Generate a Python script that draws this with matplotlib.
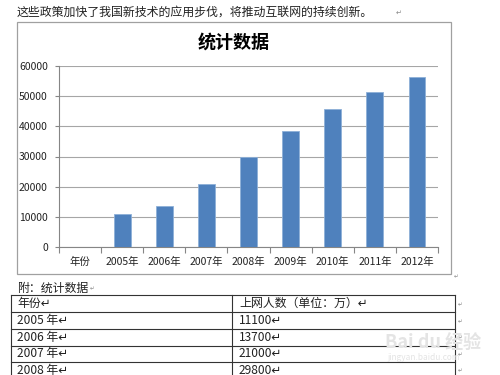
import matplotlib
matplotlib.use('Agg')
import matplotlib.pyplot as plt
from matplotlib.patches import Rectangle

plt.rcParams['font.family'] = ['Noto Sans CJK SC', 'DejaVu Sans']

# chart data
categories = ['年份', '2005年', '2006年', '2007年', '2008年',
              '2009年', '2010年', '2011年', '2012年']
users = [0, 11100, 13700, 21000, 29800, 38400, 45700, 51300, 56400]
y_ticks = [0, 10000, 20000, 30000, 40000, 50000, 60000]

# table below the chart (only the visible rows)
table_header = ['年份', '上网人数（单位：万）']
table_years = ['2005 年', '2006 年', '2007 年', '2008 年']
table_values = ['11100', '13700', '21000', '29800']

intro = '这些政策加快了我国新技术的应用步伐，将推动互联网的持续创新。'
RET = '\u21b5'
BAR = '#4f81bd'
TXT = '#222222'

W, H = 500, 375
fig = plt.figure(figsize=(W / 100, H / 100), dpi=100)

# page layer in pixel coordinates
doc = fig.add_axes([0, 0, 1, 1])
doc.set_xlim(0, W)
doc.set_ylim(H, 0)
doc.axis('off')

doc.text(17, 12, intro, fontsize=8.6, color=TXT, va='center', ha='left')
doc.text(396, 13, RET, fontsize=5, color='#888888', va='center')

# chart frame
doc.add_patch(Rectangle((17, 22), 434, 252, fill=False, edgecolor='#a0a0a0', lw=0.9))
doc.text(454, 277, RET, fontsize=4, color='#888888', va='center')
doc.text(234, 42, '统计数据', fontsize=13, fontweight='bold', color='black',
         ha='center', va='center')

# caption + table
doc.text(17, 288, '附：统计数据', fontsize=8.6, color=TXT, va='center')
doc.text(90, 289, RET, fontsize=4, color='#888888', va='center')

row_edges = [295, 312, 329, 345.5, 362, 378.5]
x_left, x_mid, x_right = 11, 232, 455
for y in row_edges:
    doc.plot([x_left, x_right], [y, y], color='#333333', lw=0.8, clip_on=False)
for x in (x_left, x_mid, x_right):
    doc.plot([x, x], [row_edges[0], row_edges[-1]], color='#333333', lw=0.8, clip_on=False)

rows = [table_header] + [[a, b] for a, b in zip(table_years, table_values)]
for i, (c1, c2) in enumerate(rows):
    yc = (row_edges[i] + row_edges[i + 1]) / 2
    doc.text(17, yc, c1 + RET, fontsize=8.6, color=TXT, va='center')
    doc.text(239, yc, c2 + RET, fontsize=8.6, color=TXT, va='center')
    doc.text(458, yc + 1, RET, fontsize=4, color='#888888', va='center')

# faint watermark
doc.text(385, 343, 'Bai du 经验', fontsize=13, color='#e4e4e4', ha='left',
         va='center', fontweight='bold')
doc.text(387, 358, 'jingyan.baidu.com', fontsize=6, color='#e4e4e4', va='center')

# the bar chart itself
ax = fig.add_axes([59 / W, 1 - 247 / H, (438 - 59) / W, (247 - 66) / H])
x = list(range(len(categories)))
ax.bar(x, users, width=0.4, color=BAR, edgecolor='#8eb0d8', linewidth=0.6, zorder=3)
ax.set_xlim(-0.5, len(categories) - 0.5)
ax.set_ylim(0, 60000)
ax.set_yticks(y_ticks)
ax.set_yticklabels([str(v) for v in y_ticks], fontsize=7.5, color=TXT)
ax.yaxis.grid(True, color='#a6a6a6', lw=0.8, zorder=0)
ax.set_xticks(x)
ax.set_xticklabels(categories, fontsize=7.5, color=TXT)
ax.tick_params(axis='x', length=0, pad=7)
ax.set_xticks([i - 0.5 for i in range(len(categories) + 1)], minor=True)
ax.tick_params(axis='x', which='minor', length=4, color='#868686', width=0.8)
ax.tick_params(axis='y', length=3, color='#868686', width=0.8, pad=5)
for s in ('top', 'right'):
    ax.spines[s].set_visible(False)
for s in ('left', 'bottom'):
    ax.spines[s].set_color('#868686')
    ax.spines[s].set_linewidth(0.8)

fig.savefig('out.png', dpi=100)
